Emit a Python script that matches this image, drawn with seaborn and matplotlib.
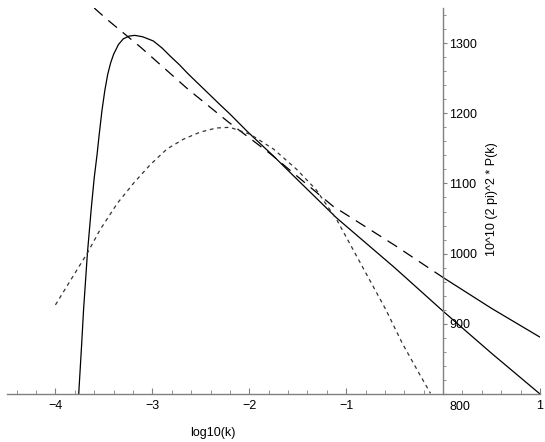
import matplotlib
matplotlib.use("Agg")
import matplotlib.pyplot as plt
import seaborn as sns
import numpy as np
import pandas as pd
from matplotlib.ticker import MultipleLocator

# ---- data ----
solid_x = [-3.76, -3.73, -3.71, -3.67, -3.63, -3.60, -3.57, -3.55, -3.52, -3.49,
           -3.46, -3.43, -3.40, -3.35, -3.30, -3.24, -3.18, -3.10, -2.99, -2.90,
           -2.82, -2.72, -2.63, -2.45, -2.30, -2.20, -2.02, -1.75, -1.50, -1.10,
           -0.50, 0.00, 0.50, 1.00]
solid_y = [800, 870, 920, 1001, 1065, 1108, 1142, 1168, 1204, 1233,
           1256, 1272, 1284, 1298, 1306, 1310, 1311, 1309, 1303, 1293,
           1282, 1269, 1256, 1232, 1212, 1199, 1174, 1139, 1105, 1051,
           980, 918, 858, 800]

dash_x = [-3.60, -3.47, -3.12, -2.63, -2.22, -1.78, -1.14, -0.50, 0.00]
dash_y = [1350, 1334, 1294, 1234, 1188, 1142, 1068, 1012, 966]

tail_x = [0.00, 0.50, 1.00]
tail_y = [966, 922, 881]

dot_x = [-4.00, -3.84, -3.67, -3.54, -3.36, -3.19, -3.02, -2.85, -2.68, -2.51,
         -2.34, -2.20, -1.99, -1.75, -1.51, -1.31, -1.10, -0.93, -0.76, -0.59,
         -0.42, -0.25, -0.13]
dot_y = [927, 963, 1001, 1034, 1072, 1101, 1127, 1149, 1163, 1173,
         1179, 1180, 1170, 1149, 1120, 1091, 1049, 1006, 963, 920,
         872, 830, 801]

x_ticks = [-4, -3, -2, -1, 1]
y_ticks = [800, 900, 1000, 1100, 1200, 1300]
y_tick_labels = ["", "900", "1000", "1100", "1200", "1300"]
x_label = "log10(k)"
y_label = "10^10 (2 pi)^2 * P(k)"

# ---- plotting ----
sns.set_theme(style="white")
plt.rcParams["font.family"] = ["Liberation Sans", "DejaVu Sans"]
plt.rcParams["text.color"] = "black"
plt.rcParams["axes.labelcolor"] = "black"

fig = plt.figure(figsize=(5.45, 4.42), dpi=100)
ax = fig.add_axes([7 / 545, (442 - 394) / 442, 533 / 545, 386 / 442])

lw = 0.9
sns.lineplot(x=solid_x, y=solid_y, ax=ax, color="black", lw=lw, sort=False)
sns.lineplot(x=dash_x, y=dash_y, ax=ax, color="black", lw=lw, sort=False,
             linestyle=(0, (9, 6)))
sns.lineplot(x=tail_x, y=tail_y, ax=ax, color="black", lw=lw, sort=False)
sns.lineplot(x=dot_x, y=dot_y, ax=ax, color="#333333", lw=lw, sort=False,
             linestyle=(0, (3, 3)))

ax.set_xlim(-4.5, 1.0)
ax.set_ylim(800, 1350)

axis_color = "#808080"
ax.spines["top"].set_visible(False)
ax.spines["left"].set_visible(False)
ax.spines["right"].set_position(("data", 0))
for s in ("right", "bottom"):
    ax.spines[s].set_color(axis_color)
    ax.spines[s].set_linewidth(1.0)

ax.yaxis.tick_right()
ax.yaxis.set_label_position("right")

ax.set_xticks(x_ticks)
ax.set_yticks(y_ticks, labels=y_tick_labels)
ax.xaxis.set_minor_locator(MultipleLocator(0.2))
ax.yaxis.set_minor_locator(MultipleLocator(20))

ax.tick_params(axis="x", which="both", direction="in", color=axis_color,
               labelcolor="black", labelsize=9, pad=4, bottom=True)
ax.tick_params(axis="x", which="major", length=4, width=0.8)
ax.tick_params(axis="x", which="minor", length=3, width=0.6)
ax.tick_params(axis="y", which="both", direction="out", color=axis_color,
               labelcolor="black", labelsize=9, pad=1.5, right=True, left=False)
ax.tick_params(axis="y", which="major", length=3, width=0.8)
ax.tick_params(axis="y", which="minor", length=2.5, width=0.6)

ax.annotate("800", xy=(0, 800), xycoords="data", xytext=(4.5, -9),
            textcoords="offset points", ha="left", va="center", fontsize=9,
            color="black")

ax.set_xlabel(x_label, fontsize=9)
ax.set_ylabel(y_label, fontsize=9)
ax.xaxis.set_label_coords(0.386, -0.085)
ax.yaxis.set_label_coords(0.898, 0.505)

ax.grid(False)
fig.savefig("out.png", dpi=100)
